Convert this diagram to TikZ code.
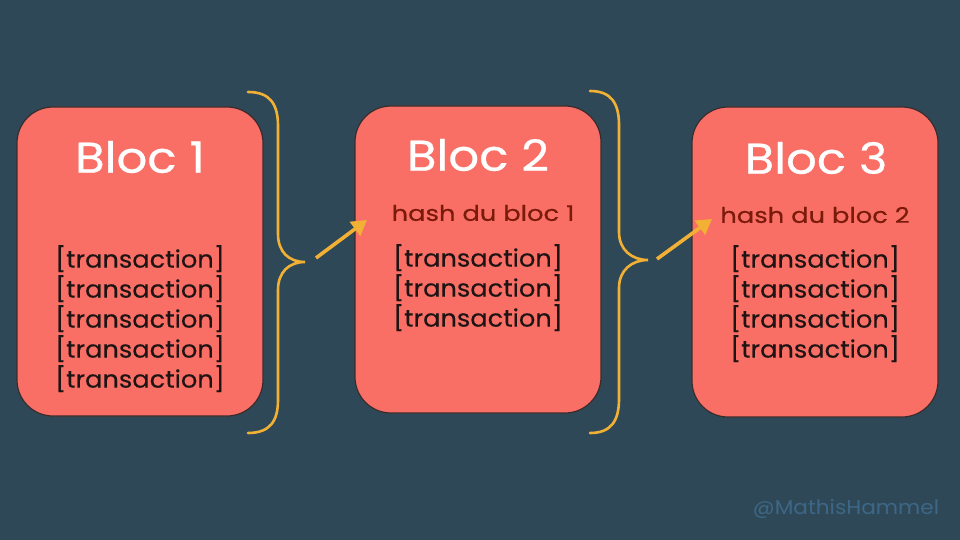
\documentclass[tikz,border=0pt]{standalone}
\usepackage{fontspec}
\setmainfont{Poppins}
\usetikzlibrary{arrows.meta}
\definecolor{bg}{HTML}{2F4858}
\definecolor{blockfill}{HTML}{F96F66}
\definecolor{blockedge}{HTML}{3A2C2C}
\definecolor{gold}{HTML}{F2B134}
\definecolor{hashred}{HTML}{7A1A0A}
\definecolor{txdark}{HTML}{1E1414}
\definecolor{wm}{HTML}{3D6786}
\newcommand{\txl}{{[transaction]}}
\tikzset{
  blockbox/.style={draw=blockedge, line width=1.2pt, fill=blockfill, rounded corners=36pt},
  titletext/.style={text=white, font=\fontsize{43}{50}\selectfont\addfontfeature{FakeStretch=1.12,FakeBold=0.6}, inner sep=0pt},
  hashtext/.style={text=hashred, font=\fontsize{21.5}{24}\selectfont\addfontfeature{FakeStretch=1.2,FakeBold=0.4}, inner sep=0pt},
  txtext/.style={text=txdark, font=\fontsize{24}{30}\selectfont\addfontfeature{FakeStretch=1.07,FakeBold=0.3}, align=center, inner sep=0pt},
  bracestyle/.style={draw=gold, line width=2.6pt, line cap=round},
  linkarrow/.style={draw=gold, line width=3.6pt, -{Triangle[length=15pt,width=17pt]}},
}
\begin{document}
\begin{tikzpicture}[x=1pt,y=-1pt]
\fill[bg] (0,0) rectangle (960,540);
\useasboundingbox (0,0) rectangle (960,540);
% blocks
\draw[blockbox] (17,107) rectangle (263,416);
\draw[blockbox] (355,106) rectangle (601,413);
\draw[blockbox] (692,107) rectangle (938,417);
% titles
\node[titletext] (t1) at (140,157) {Bloc 1};
\node[titletext] (t2) at (478,155) {Bloc 2};
\node[titletext] (t3) at (816,158) {Bloc 3};
% hashes
\node[hashtext] (h2) at (483,213) {hash du bloc 1};
\node[hashtext] (h3) at (815,215) {hash du bloc 2};
% transactions
\node[txtext, anchor=north] (x1) at (140,245) {\txl\\\txl\\\txl\\\txl\\\txl};
\node[txtext, anchor=north] (x2) at (478,244) {\txl\\\txl\\\txl};
\node[txtext, anchor=north] (x3) at (815,245) {\txl\\\txl\\\txl\\\txl};
% braces
\draw[bracestyle] (248,92) .. controls (270,92) and (278,104) .. (278,126) -- (278,234) .. controls (278,252) and (289,262) .. (305,262) .. controls (289,262) and (278,272) .. (278,290) -- (278,400) .. controls (278,421) and (270,433) .. (248,433);
\draw[bracestyle] (590,91) .. controls (611,91) and (619,103) .. (619,125) -- (619,232) .. controls (619,250) and (632,260) .. (648,260) .. controls (632,260) and (619,270) .. (619,288) -- (619,399) .. controls (619,421) and (611,433) .. (590,433);
% arrows
\coordinate (a1s) at (316,258);
\coordinate (a1e) at (367,220);
\coordinate (a2s) at (657,259);
\coordinate (a2e) at (712,219);
\draw[linkarrow] (a1s) -- (a1e);
\draw[linkarrow] (a2s) -- (a2e);
% watermark
\node[text=wm, font=\fontsize{20}{24}\selectfont\addfontfeature{FakeStretch=1.08}, inner sep=0pt] (wmk) at (846,509) {@MathisHammel};
\end{tikzpicture}
\end{document}
